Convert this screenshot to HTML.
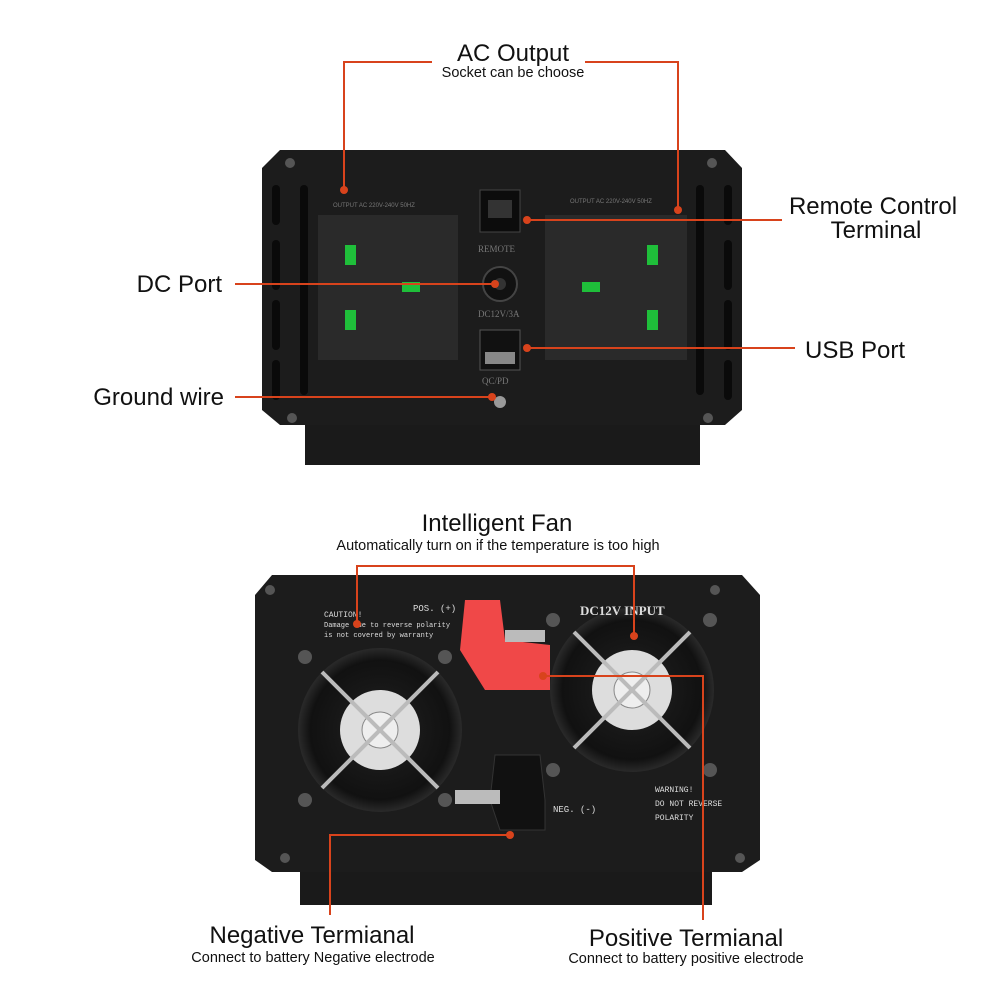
<!DOCTYPE html>
<html><head><meta charset="utf-8"><style>
html,body{margin:0;padding:0;background:#fff;}
body{width:1000px;height:1000px;position:relative;overflow:hidden;font-family:"Liberation Sans",sans-serif;}
.t{position:absolute;color:#111;white-space:nowrap;line-height:1;}
.c{transform:translateX(-50%);text-align:center;}
.b{font-size:24px;}
.s{font-size:14.5px;}
</style></head><body>
<svg width="1000" height="1000" style="position:absolute;left:0;top:0">
<defs>
<radialGradient id="fan" cx="50%" cy="50%" r="50%"><stop offset="0" stop-color="#222"/><stop offset="0.85" stop-color="#111"/><stop offset="1" stop-color="#2a2a2a"/></radialGradient>
</defs>
<rect x="305" y="415" width="395" height="50" fill="#1a1a1a"/>
<polygon points="280,150 725,150 742,168 742,410 725,425 280,425 262,410 262,168" fill="#1c1c1c"/>
<g fill="#0a0a0a">
<rect x="272" y="185" width="8" height="40" rx="4"/><rect x="272" y="240" width="8" height="50" rx="4"/><rect x="272" y="300" width="8" height="50" rx="4"/><rect x="272" y="360" width="8" height="40" rx="4"/>
<rect x="724" y="185" width="8" height="40" rx="4"/><rect x="724" y="240" width="8" height="50" rx="4"/><rect x="724" y="300" width="8" height="50" rx="4"/><rect x="724" y="360" width="8" height="40" rx="4"/>
<rect x="300" y="185" width="8" height="210" rx="4"/><rect x="696" y="185" width="8" height="210" rx="4"/>
</g>
<rect x="318" y="215" width="140" height="145" fill="#2a2a2a"/>
<rect x="545" y="215" width="142" height="145" fill="#2a2a2a"/>
<g fill="#1fbf3a">
<rect x="345" y="245" width="11" height="20"/><rect x="345" y="310" width="11" height="20"/><rect x="402" y="282" width="18" height="10"/>
<rect x="647" y="245" width="11" height="20"/><rect x="647" y="310" width="11" height="20"/><rect x="582" y="282" width="18" height="10"/>
</g>
<rect x="480" y="190" width="40" height="42" fill="#0c0c0c" stroke="#444"/>
<rect x="488" y="200" width="24" height="18" fill="#333"/>
<circle cx="500" cy="284" r="17" fill="#111" stroke="#444" stroke-width="2"/>
<circle cx="500" cy="284" r="6" fill="#333"/>
<rect x="480" y="330" width="40" height="40" fill="#111" stroke="#555"/>
<rect x="485" y="352" width="30" height="12" fill="#888"/>
<circle cx="500" cy="402" r="6" fill="#999"/>
<text x="478" y="252" font-size="9" fill="#777" font-family="Liberation Serif">REMOTE</text>
<text x="478" y="317" font-size="9" fill="#777" font-family="Liberation Serif">DC12V/3A</text>
<text x="482" y="384" font-size="9" fill="#777" font-family="Liberation Serif">QC/PD</text>
<text x="333" y="207" font-size="6" fill="#777">OUTPUT AC 220V-240V 50HZ</text>
<text x="570" y="203" font-size="6" fill="#777">OUTPUT AC 220V-240V 50HZ</text>
<g fill="#555"><circle cx="290" cy="163" r="5"/><circle cx="712" cy="163" r="5"/><circle cx="292" cy="418" r="5"/><circle cx="708" cy="418" r="5"/></g>

<rect x="300" y="860" width="412" height="45" fill="#1a1a1a"/>
<polygon points="272,575 742,575 760,595 760,860 742,872 272,872 255,860 255,595" fill="#1c1c1c"/>
<circle cx="380" cy="730" r="82" fill="url(#fan)"/>
<circle cx="632" cy="690" r="82" fill="url(#fan)"/>
<circle cx="380" cy="730" r="40" fill="#ddd"/><circle cx="380" cy="730" r="18" fill="#eee" stroke="#888"/>
<circle cx="632" cy="690" r="40" fill="#ddd"/><circle cx="632" cy="690" r="18" fill="#eee" stroke="#888"/>
<g stroke="#bbb" stroke-width="4">
<line x1="322" y1="672" x2="438" y2="788"/><line x1="438" y1="672" x2="322" y2="788"/>
<line x1="574" y1="632" x2="690" y2="748"/><line x1="690" y1="632" x2="574" y2="748"/>
</g>
<polygon points="465,600 500,600 505,640 550,645 550,690 485,690 460,650" fill="#f04848"/>
<rect x="505" y="630" width="40" height="12" fill="#bbb"/>
<polygon points="495,755 540,755 545,800 545,830 500,830 490,800" fill="#111" stroke="#333"/>
<rect x="455" y="790" width="45" height="14" fill="#bbb"/>
<g fill="#555"><circle cx="270" cy="590" r="5"/><circle cx="715" cy="590" r="5"/><circle cx="285" cy="858" r="5"/><circle cx="740" cy="858" r="5"/>
<circle cx="305" cy="657" r="7"/><circle cx="445" cy="657" r="7"/><circle cx="305" cy="800" r="7"/><circle cx="445" cy="800" r="7"/>
<circle cx="553" cy="620" r="7"/><circle cx="710" cy="620" r="7"/><circle cx="553" cy="770" r="7"/><circle cx="710" cy="770" r="7"/></g>
<text x="580" y="615" font-size="13" fill="#ddd" font-family="Liberation Serif" font-weight="bold">DC12V INPUT</text>
<text x="413" y="611" font-size="9" fill="#ddd" font-family="Liberation Mono">POS. (+)</text>
<text x="324" y="617" font-size="8" fill="#ddd" font-family="Liberation Mono">CAUTION!</text>
<text x="324" y="627" font-size="7" fill="#ddd" font-family="Liberation Mono">Damage due to reverse polarity</text>
<text x="324" y="637" font-size="7" fill="#ddd" font-family="Liberation Mono">is not covered by warranty</text>
<text x="553" y="812" font-size="9" fill="#ddd" font-family="Liberation Mono">NEG. (-)</text>
<text x="655" y="792" font-size="8" fill="#ddd" font-family="Liberation Mono">WARNING!</text>
<text x="655" y="806" font-size="8" fill="#ddd" font-family="Liberation Mono">DO NOT REVERSE</text>
<text x="655" y="820" font-size="8" fill="#ddd" font-family="Liberation Mono">POLARITY</text>

<g stroke="#d8431c" stroke-width="2" fill="none">
<polyline points="344,190 344,62 432,62"/><polyline points="585,62 678,62 678,210"/>
<line x1="527" y1="220" x2="782" y2="220"/>
<line x1="235" y1="284" x2="495" y2="284"/>
<line x1="527" y1="348" x2="795" y2="348"/>
<line x1="235" y1="397" x2="492" y2="397"/>
<polyline points="357,624 357,566 634,566 634,636"/>
<polyline points="543,676 703,676 703,920"/>
<polyline points="510,835 330,835 330,915"/>
</g>
<g fill="#d8431c"><circle cx="344" cy="190" r="4"/><circle cx="678" cy="210" r="4"/><circle cx="527" cy="220" r="4"/><circle cx="495" cy="284" r="4"/><circle cx="527" cy="348" r="4"/><circle cx="492" cy="397" r="4"/><circle cx="357" cy="624" r="4"/><circle cx="634" cy="636" r="4"/><circle cx="543" cy="676" r="4"/><circle cx="510" cy="835" r="4"/></g>
</svg>
<div class="t c b" style="left:513px;top:42px">AC Output</div>
<div class="t c s" style="left:513px;top:66px">Socket can be choose</div>
<div class="t c b" style="left:873px;top:195px">Remote Control</div>
<div class="t c b" style="left:876px;top:219px">Terminal</div>
<div class="t b" style="right:778px;top:273px">DC Port</div>
<div class="t b" style="left:805px;top:339px">USB Port</div>
<div class="t b" style="right:776px;top:386px">Ground wire</div>
<div class="t c b" style="left:497px;top:512px">Intelligent Fan</div>
<div class="t c s" style="left:498px;top:539px">Automatically turn on if the temperature is too high</div>
<div class="t c b" style="left:312px;top:924px">Negative Termianal</div>
<div class="t c s" style="left:313px;top:951px">Connect to battery Negative electrode</div>
<div class="t c b" style="left:686px;top:927px">Positive Termianal</div>
<div class="t c s" style="left:686px;top:952px">Connect to battery positive electrode</div>
</body></html>
